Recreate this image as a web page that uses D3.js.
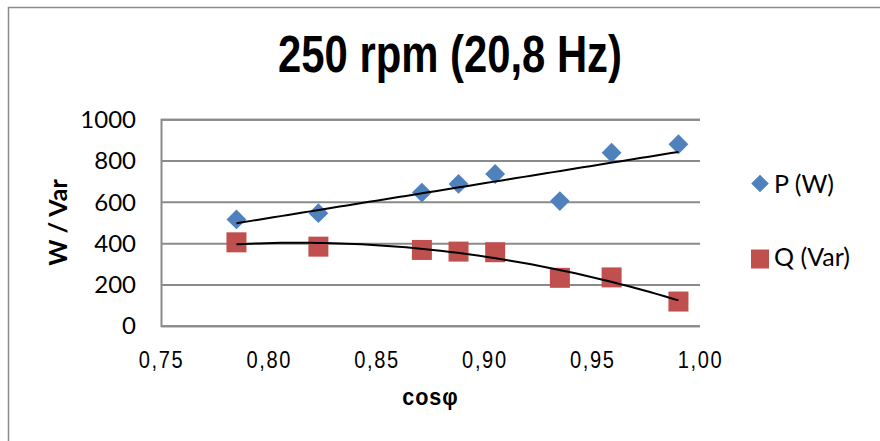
<!DOCTYPE html>
<html>
<head>
<meta charset="utf-8">
<script src="https://cdn.jsdelivr.net/npm/d3@7/dist/d3.min.js"></script>
<style>
  html, body { margin: 0; padding: 0; background: #fff; }
  svg { display: block; }
</style>
</head>
<body>
<script>
// Power measurements at 250 rpm versus power factor
const cosPhi = [0.785, 0.823, 0.871, 0.888, 0.905, 0.935, 0.959, 0.990];
const pW     = [515, 545, 645, 687, 735, 604, 838, 879];
const qVar   = [404, 383, 367, 359, 356, 232, 234, 117];
const xTicks = [0.75, 0.80, 0.85, 0.90, 0.95, 1.00];
const yTicks = [0, 200, 400, 600, 800, 1000];
const seriesNames = ["P (W)", "Q (Var)"];
const titleText = "250 rpm (20,8 Hz)";
const xTitle = "cosφ";
const yTitle = "W / Var";

const W = 880, H = 441;
const plot = { left: 161, right: 700, top: 119.3, bottom: 325.7 };
const blue = "#4F81BD", red = "#C0504D", grid = "#8a8a8a";
const sans = "'Liberation Sans', Arial, sans-serif";
const body = "Lato, 'Open Sans', sans-serif";
const narrowScale = 0.82; // condensed rendering of the sans face

const svg = d3.select("body").append("svg").attr("width", W).attr("height", H);

// chart frame
svg.append("rect").attr("x", 8.5).attr("y", 7.5).attr("width", W + 20).attr("height", H + 20)
  .attr("fill", "#fff").attr("stroke", "#8c8c8c").attr("stroke-width", 1.5);

const x = d3.scaleLinear().domain([0.75, 1.0]).range([plot.left, plot.right]);
const y = d3.scaleLinear().domain([0, 1000]).range([plot.bottom, plot.top]);
const comma = v => d3.format(".2f")(v).replace(".", ",");

// y axis with gridlines
const yAxis = svg.append("g").attr("transform", `translate(${plot.left},0)`)
  .call(d3.axisLeft(y).tickValues(yTicks).tickSize(-(plot.right - plot.left)).tickPadding(25).tickFormat(d3.format("d")));
yAxis.select(".domain").attr("stroke", grid).attr("stroke-width", 2);
yAxis.selectAll(".tick line").attr("stroke", grid).attr("stroke-width", 2);
yAxis.selectAll(".tick text").attr("font-family", body).attr("font-size", 24).attr("fill", "#000").attr("dy", "0.34em");

// x axis labels (no tick marks)
const xAxis = svg.append("g").attr("transform", `translate(0,${plot.bottom})`)
  .call(d3.axisBottom(x).tickValues(xTicks).tickSize(0).tickPadding(25).tickFormat(comma));
xAxis.select(".domain").remove();
xAxis.selectAll(".tick text").attr("font-family", sans).attr("font-size", 24.5)
  .attr("fill", "#000").attr("dy", "0.71em").attr("letter-spacing", "2px")
  .attr("transform", `scale(${narrowScale},1)`);

// least-squares polynomial fit (normal equations)
function polyfit(xs, ys, order) {
  const n = order + 1;
  const A = Array.from({ length: n }, () => new Array(n + 1).fill(0));
  xs.forEach((xv, k) => {
    for (let i = 0; i < n; i++) {
      for (let j = 0; j < n; j++) A[i][j] += Math.pow(xv, i + j);
      A[i][n] += ys[k] * Math.pow(xv, i);
    }
  });
  for (let i = 0; i < n; i++) {
    let p = i;
    for (let r = i + 1; r < n; r++) if (Math.abs(A[r][i]) > Math.abs(A[p][i])) p = r;
    [A[i], A[p]] = [A[p], A[i]];
    for (let r = 0; r < n; r++) {
      if (r === i) continue;
      const f = A[r][i] / A[i][i];
      for (let c = i; c <= n; c++) A[r][c] -= f * A[i][c];
    }
  }
  const coef = A.map((row, i) => row[n] / row[i]);
  return v => coef.reduce((s, c, i) => s + c * Math.pow(v, i), 0);
}

const fitP = polyfit(cosPhi, pW, 1);
const fitQ = polyfit(cosPhi, qVar, 2);
const xmin = d3.min(cosPhi), xmax = d3.max(cosPhi);
const samples = d3.range(0, 61).map(i => xmin + (xmax - xmin) * i / 60);
const line = d3.line().x(d => x(d[0])).y(d => y(d[1]));

// markers
svg.append("g").selectAll("path").data(cosPhi.map((c, i) => [c, pW[i]])).join("path")
  .attr("d", d3.symbol().type(d3.symbolSquare).size(196))
  .attr("transform", d => `translate(${x(d[0])},${y(d[1])}) rotate(45)`)
  .attr("fill", blue);

svg.append("g").selectAll("rect").data(cosPhi.map((c, i) => [c, qVar[i]])).join("rect")
  .attr("x", d => x(d[0]) - 10).attr("y", d => y(d[1]) - 10)
  .attr("width", 20).attr("height", 20).attr("fill", red);

// trend lines
svg.append("path").datum(samples.map(v => [v, fitP(v)])).attr("d", line)
  .attr("fill", "none").attr("stroke", "#000").attr("stroke-width", 2);
svg.append("path").datum(samples.map(v => [v, fitQ(v)])).attr("d", line)
  .attr("fill", "none").attr("stroke", "#000").attr("stroke-width", 2);

// title
svg.append("text").attr("transform", `translate(450,72) scale(${narrowScale},1)`).attr("text-anchor", "middle")
  .attr("font-family", sans).attr("font-weight", "bold").attr("font-size", 51)
  .attr("fill", "#000").text(titleText);

// axis titles
svg.append("text").attr("transform", `translate(${(plot.left + plot.right) / 2},405) scale(0.9,1)`)
  .attr("text-anchor", "middle")
  .attr("font-family", sans).attr("font-weight", "bold").attr("font-size", 24)
  .attr("letter-spacing", "1px").attr("fill", "#000").text(xTitle);
svg.append("text").attr("transform", `translate(66.5,${(plot.top + plot.bottom) / 2}) rotate(-90)`)
  .attr("text-anchor", "middle").attr("font-family", body).attr("font-weight", "bold")
  .attr("font-size", 25).attr("fill", "#000").text(yTitle);

// legend
const leg = svg.append("g");
leg.append("path").attr("d", d3.symbol().type(d3.symbolSquare).size(156))
  .attr("transform", "translate(760,183.5) rotate(45)").attr("fill", blue);
leg.append("text").attr("x", 774).attr("y", 193).attr("font-family", body).attr("font-size", 25)
  .attr("fill", "#000").text(seriesNames[0]);
leg.append("rect").attr("x", 751).attr("y", 249.5).attr("width", 18).attr("height", 19).attr("fill", red);
leg.append("text").attr("x", 774).attr("y", 266).attr("font-family", body).attr("font-size", 25)
  .attr("fill", "#000").text(seriesNames[1]);
</script>
</body>
</html>
